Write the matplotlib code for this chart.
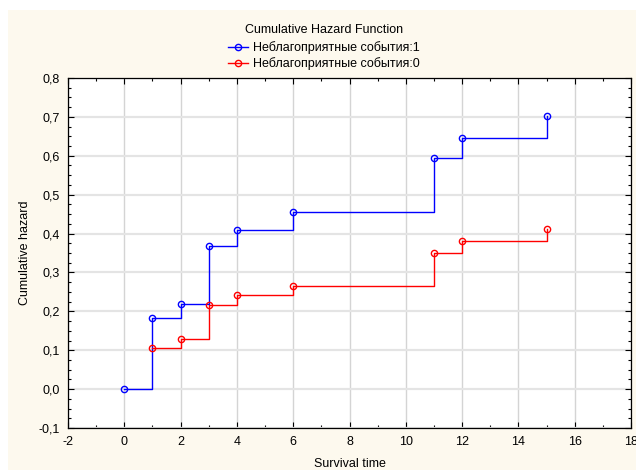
import matplotlib
matplotlib.use("Agg")
import matplotlib.pyplot as plt
from matplotlib.patches import Rectangle
from matplotlib.ticker import MultipleLocator, FuncFormatter

plt.rcParams['font.family'] = ['Liberation Sans', 'DejaVu Sans']

# Cumulative hazard estimates per group
times_1 = [0, 1, 2, 3, 4, 6, 11, 12, 15]
hazard_1 = [0.0, 0.182, 0.218, 0.367, 0.409, 0.455, 0.594, 0.645, 0.702]
times_0 = [1, 2, 3, 4, 6, 11, 12, 15]
hazard_0 = [0.105, 0.129, 0.216, 0.242, 0.265, 0.350, 0.380, 0.411]

label_1 = "Неблагоприятные события:1"
label_0 = "Неблагоприятные события:0"
legend_title = "Cumulative Hazard Function"
x_label = "Survival time"
y_label = "Cumulative hazard"

cream = "#fdf9ee"

fig = plt.figure(figsize=(6.36, 4.70), dpi=100)
fig.patch.set_facecolor("white")
fig.patches.append(Rectangle((8 / 636, 0), 1, 1 - 10 / 470, transform=fig.transFigure,
                             facecolor=cream, edgecolor="none", zorder=-10))

ax = fig.add_axes([68 / 636, 1 - 428 / 470, (631 - 68) / 636, (428 - 78) / 470])
ax.set_facecolor("white")

ax.step(times_1, hazard_1, where="post", color="#0000ff", lw=1.0,
        marker="o", mfc="none", mec="#0000ff", ms=4.5, mew=1.0, label=label_1, zorder=3)
ax.step(times_0, hazard_0, where="post", color="#ff0000", lw=1.0,
        marker="o", mfc="none", mec="#ff0000", ms=4.5, mew=1.0, label=label_0, zorder=3)

ax.set_xlim(-2, 18)
ax.set_ylim(-0.1, 0.8)
ax.xaxis.set_major_locator(MultipleLocator(2))
ax.xaxis.set_minor_locator(MultipleLocator(1))
ax.yaxis.set_major_locator(MultipleLocator(0.1))
ax.yaxis.set_minor_locator(MultipleLocator(0.025))

ax.xaxis.set_major_formatter(FuncFormatter(lambda v, p: f"{v:.0f}".replace("\u2212", "-")))
ax.yaxis.set_major_formatter(FuncFormatter(lambda v, p: f"{v:.1f}".replace(".", ",")))

ax.tick_params(which="both", direction="in", top=True, right=True, labelsize=9,
               colors="black", width=0.8)
ax.tick_params(which="major", length=4, pad=6)
ax.tick_params(which="minor", length=2.5)

ax.grid(True, axis="x", which="major", color="#d4d4d4", lw=1.0, zorder=0)
ax.grid(True, axis="y", which="major", color="#e4e4e4", lw=1.6, zorder=0)
ax.set_axisbelow(True)

for s in ax.spines.values():
    s.set_color("black")
    s.set_linewidth(0.9)

ax.set_xlabel(x_label, fontsize=9, labelpad=7)
ax.set_ylabel(y_label, fontsize=9, labelpad=5)

leg = fig.legend(loc="upper center", bbox_to_anchor=(0.51, 1 - 19 / 470), frameon=False,
                 title=legend_title, fontsize=9, title_fontsize=9,
                 handlelength=1.6, handletextpad=0.4, labelspacing=0.2, borderaxespad=0)
leg._legend_box.sep = 4

fig.savefig("out.png", dpi=100, facecolor=fig.get_facecolor())
